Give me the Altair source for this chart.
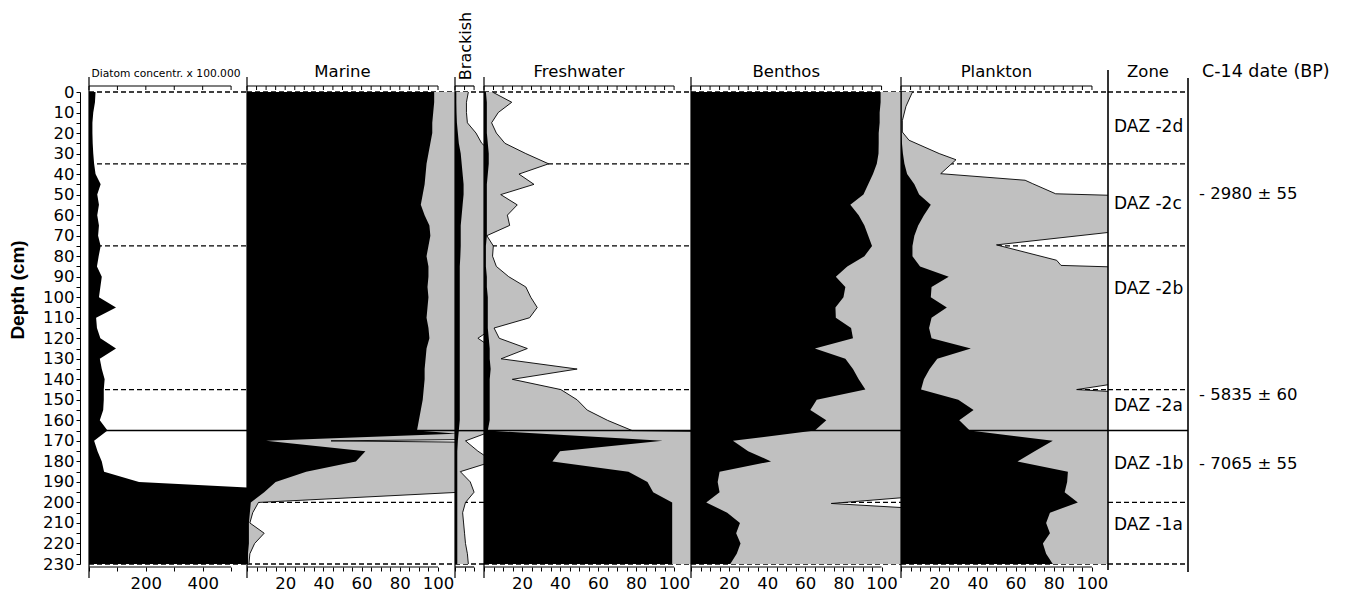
import altair as alt
import pandas as pd

FONT = "DejaVu Sans"
BOLD_FONT = "Liberation Sans"
H = 472

DEPTH = list(range(0, 235, 5))

# Diatom concentration (x 100.000)
CONC_DEPTH = [0, 5, 10, 15, 20, 25, 30, 35, 40, 45, 50, 55, 60, 65, 70, 75, 80, 85, 90, 95, 100,
              105, 110, 115, 120, 125, 130, 135, 140, 145, 150, 155, 160, 165, 170, 175, 180, 185,
              190, 193, 200, 210, 220, 230]
CONC = [23, 21, 15, 12, 12, 13, 15, 18, 23, 41, 29, 35, 29, 35, 32, 41, 34, 28, 45, 40, 35,
        95, 25, 28, 40, 95, 38, 45, 55, 52, 52, 50, 38, 65, 18, 30, 45, 53,
        176, 600, 600, 600, 600, 600]

MARINE_DEPTH = list(range(0, 170, 5)) + [166.5] + list(range(170, 235, 5))
MARINE_BLACK = [98, 98, 97.5, 97, 97, 96, 95, 94, 93.5, 93, 92, 91, 93, 95.5, 96, 95, 94, 95, 95, 94.5,
                95, 94.5, 94, 95, 95.5, 94, 93.5, 93, 93, 92.5, 92, 91, 90, 89, 110, 10, 62, 57, 31,
                15, 9, 2, 1.5, 1, 1, 1, 0.5, 0.5]
MARINE_GRAY_DEPTH = [0, 169.3, 170, 170.7, 195, 200, 205, 210, 215, 220, 225, 230]
MARINE_GRAY = [120, 120, 44, 120, 112, 6, 3, 1.5, 9, 4, 1.5, 1]

BRACKISH_BLACK = [0.7, 0.7, 0.8, 1, 1.5, 2, 3, 3.5, 4, 4.5, 4.5, 4, 3.5, 3, 3, 3, 2.8] + [2.5] * 16 + \
                 [2, 1.5, 1.2, 1.2, 1.2, 1.2, 1.2, 1.2, 1.2, 1.2, 1.2, 1.2, 1.2, 1.2]
BRACKISH_GRAY = [7, 6, 6, 6.5, 11, 14] + [20] * 18 + [12] + [20] * 9 + \
                [5.5, 12, 20, 2.8, 8, 10, 5.5, 4, 4.5, 5, 5.5, 6.5, 7]

FRESH_BLACK = [1, 1.5, 1.5, 1.5, 1.5, 2, 2.5, 2.5, 2, 1.5, 1.5, 1.5, 1.5, 1.5, 1.5, 1, 1, 1, 1.5, 1.5,
               2, 2, 2, 2, 2.5, 3, 3, 3.5, 3, 3, 3, 3, 3, 2, 94, 40, 36, 76, 86, 89, 99, 99, 99, 99,
               99, 99, 99]
FRESH_GRAY_DEPTH = list(range(0, 170, 5)) + [165.5, 230]
FRESH_GRAY = [4.4, 14.6, 7.5, 4, 6.5, 11, 22, 34, 18.4, 26.3, 8.8, 17.5, 12.3, 13.5, 1.5, 4.9, 4.5,
              6.5, 13, 22, 24.6, 28, 24, 5.3, 8, 22.8, 9, 49, 14.9, 40.4, 49, 54.3, 65, 78, 120, 120]

BENTHOS_BLACK = [99.5, 99.5, 99, 99, 98.5, 98.5, 98.4, 97.5, 95.5, 93, 90.5, 83.6, 88, 91, 93, 95, 91,
                 82, 76, 81, 80, 75.8, 76, 84, 85, 65, 81, 85, 88, 91.5, 66, 62.6, 71, 65, 22, 30, 42,
                 15, 14, 15, 8, 19, 25.7, 23.7, 26, 24, 20.6]
BENTHOS_GRAY_DEPTH = [0, 197, 200.5, 203, 230]
BENTHOS_GRAY = [120, 120, 73.6, 120, 120]

PLANKTON_BLACK = [0.3, 0.3, 0.3, 0.3, 0.3, 0.5, 1, 1.8, 3.2, 7, 9.5, 15.6, 12, 9, 7, 6, 6, 10, 25, 16,
                  15.6, 24, 16, 14.7, 16, 36.6, 19, 15, 12, 10.5, 30, 38, 30.5, 36, 79.5, 70, 61, 87.4,
                  87, 85.7, 92.6, 78, 76, 78, 74.3, 76, 79.5]
PLANKTON_GRAY_DEPTH = [0, 7, 14, 19.5, 23.5, 30, 33, 39.8, 43, 44.7, 49.6, 50.6, 67, 68.5, 74.5, 82,
                       84.5, 85.5, 141, 145, 146.5, 230]
PLANKTON_GRAY = [6, 2.6, 0.7, 0.7, 4.2, 20, 28.8, 20.8, 65, 69, 81, 120, 120, 108, 50, 81.5, 83.8,
                 120, 120, 92, 120, 120]

ZONE_DASHED = [0, 35, 75, 145, 200, 230]
ZONE_SOLID = [165]
ZONE_NAMES = ["DAZ -2d", "DAZ -2c", "DAZ -2b", "DAZ -2a", "DAZ -1b", "DAZ -1a"]
ZONE_NAME_DEPTH = [16.9, 54.8, 96.2, 153.2, 181.3, 211]
C14_LABELS = ["- 2980 \u00b1 55", "- 5835 \u00b1 60", "- 7065 \u00b1 55"]
C14_DEPTH = [49.5, 147.5, 181.3]

PCT_TICKS = list(range(0, 105, 5))
PCT_LABELS = [20, 40, 60, 80, 100]
CONC_TICKS = [0, 100, 200, 300, 400, 500]
CONC_LABELS = [200, 400]
BRACK_TICKS = [0, 5, 10]

GRAY = "#c0c0c0"
TICK_FS = 16.5

ysc = alt.Scale(domain=[0, 230], reverse=True, nice=False, zero=False)

depth_axis = alt.Axis(values=list(range(0, 235, 5)),
                      labelExpr="datum.value % 10 === 0 ? datum.label : ''",
                      offset=9, tickSize=4, tickColor="black", domainColor="black",
                      labelFontSize=TICK_FS, labelFont=FONT, labelColor="black", labelPadding=2,
                      grid=False, title=None, labelFlush=False, labelOverlap=False)

dashed_df = pd.DataFrame({"d": ZONE_DASHED})
solid_df = pd.DataFrame({"d": ZONE_SOLID})


def Y(axis=None):
    return alt.Y("d:Q", scale=ysc, axis=axis)


def panel(width, xmax, black_d, black_v, gray_d, gray_v, title, ticks, labels, tick_max,
          y_axis=None, title_x=50, title_size=16.5, rotated=False):
    xs = alt.Scale(domain=[0, xmax], nice=False, zero=True)
    lab = "[" + ",".join(str(v) for v in labels) + "]"
    xaxis = alt.Axis(orient="bottom", values=ticks,
                     labelExpr=f"indexof({lab}, datum.value) >= 0 ? datum.label : ''",
                     offset=3, domain=False, tickSize=4, tickColor="black", tickWidth=1,
                     labelFontSize=TICK_FS, labelFont=FONT, labelColor="black", labelPadding=4,
                     grid=False, title=None, labelFlush=False, labelOverlap=False)
    yenc = Y(y_axis)
    one = pd.DataFrame({"a": [0], "b": [tick_max], "tx": [title_x], "label": [title]})
    layers = [
        alt.Chart(dashed_df).mark_rule(strokeDash=[5, 3], strokeWidth=1.3, color="black")
        .encode(y=yenc, x=alt.value(0), x2=alt.value(width)),
    ]
    if gray_d is not None:
        gdf = pd.DataFrame({"d": gray_d, "v": gray_v})
        layers.append(alt.Chart(gdf).mark_area(orient="horizontal", clip=True, color=GRAY)
                      .encode(x=alt.X("v:Q", scale=xs, axis=xaxis), y=yenc))
        layers.append(alt.Chart(gdf).mark_line(clip=True, color="black", strokeWidth=0.9)
                      .encode(x=alt.X("v:Q", scale=xs, axis=xaxis), y=yenc, order="d:Q"))
    bdf = pd.DataFrame({"d": black_d, "v": black_v})
    layers.append(alt.Chart(bdf).mark_area(orient="horizontal", clip=True, color="black")
                  .encode(x=alt.X("v:Q", scale=xs, axis=xaxis), y=yenc))
    layers.append(alt.Chart(solid_df).mark_rule(strokeWidth=1.5, color="black")
                  .encode(y=yenc, x=alt.value(0), x2=alt.value(width)))
    layers.append(alt.Chart(one).mark_rule(strokeWidth=1.2, color="black")
                  .encode(x=alt.value(0), y=alt.value(-15), y2=alt.value(H + 14)))
    tdf = pd.DataFrame({"t": ticks})
    layers.append(alt.Chart(tdf).mark_rule(strokeWidth=1, color="black")
                  .encode(x=alt.X("t:Q", scale=xs, axis=xaxis), y=alt.value(-6), y2=alt.value(-2)))
    layers.append(alt.Chart(one).mark_rule(strokeWidth=1.2, color="black")
                  .encode(x=alt.X("a:Q", scale=xs, axis=xaxis), x2="b:Q", y=alt.value(-6)))
    layers.append(alt.Chart(one).mark_rule(strokeWidth=1.2, color="black")
                  .encode(x=alt.X("a:Q", scale=xs, axis=xaxis), x2="b:Q", y=alt.value(H + 3)))
    if rotated:
        layers.append(alt.Chart(one).mark_text(angle=270, align="center", baseline="middle",
                                               fontSize=title_size, font=FONT, color="black")
                      .encode(x=alt.X("tx:Q", scale=xs, axis=xaxis), y=alt.value(-46), text="label:N"))
    else:
        layers.append(alt.Chart(one).mark_text(align="center", baseline="alphabetic",
                                               fontSize=title_size, font=FONT, color="black")
                      .encode(x=alt.X("tx:Q", scale=xs, axis=xaxis), y=alt.value(-15), text="label:N"))
    return alt.layer(*layers).properties(width=width, height=H)


conc = panel(158, 556, CONC_DEPTH, CONC, None, None, "Diatom concentr. x 100.000",
             CONC_TICKS, CONC_LABELS, 500, y_axis=depth_axis, title_x=271, title_size=10.7)
depth_title = alt.Chart(pd.DataFrame({"label": ["Depth (cm)"]})).mark_text(
    angle=270, align="center", baseline="middle", fontSize=19, fontWeight="bold", font=BOLD_FONT,
    color="black").encode(x=alt.value(-71), y=alt.value(198), text="label:N")
conc = alt.layer(conc, depth_title)

marine = panel(208, 108.9, MARINE_DEPTH, MARINE_BLACK, MARINE_GRAY_DEPTH, MARINE_GRAY, "Marine",
               PCT_TICKS, PCT_LABELS, 100)
brackish = panel(29, 15.2, DEPTH, BRACKISH_BLACK, DEPTH, BRACKISH_GRAY, "Brackish",
                 BRACK_TICKS, [], 10, title_x=6, title_size=16, rotated=True)
fresh = panel(207, 108.9, DEPTH, FRESH_BLACK, FRESH_GRAY_DEPTH, FRESH_GRAY, "Freshwater",
              PCT_TICKS, PCT_LABELS, 100)
benthos = panel(210, 110.2, DEPTH, BENTHOS_BLACK, BENTHOS_GRAY_DEPTH, BENTHOS_GRAY, "Benthos",
                PCT_TICKS, PCT_LABELS, 100)
plankton = panel(207, 108.4, DEPTH, PLANKTON_BLACK, PLANKTON_GRAY_DEPTH, PLANKTON_GRAY, "Plankton",
                 PCT_TICKS, PCT_LABELS, 100)

# Zone column
ZW = 80
zone_df = pd.DataFrame({"d": ZONE_NAME_DEPTH, "label": ZONE_NAMES})
hdr = pd.DataFrame({"label": ["Zone"]})
zone = alt.layer(
    alt.Chart(dashed_df).mark_rule(strokeDash=[5, 3], strokeWidth=1.3, color="black")
    .encode(y=Y(), x=alt.value(0), x2=alt.value(ZW)),
    alt.Chart(solid_df).mark_rule(strokeWidth=1.5, color="black")
    .encode(y=Y(), x=alt.value(0), x2=alt.value(ZW)),
    alt.Chart(hdr).mark_rule(strokeWidth=1.6, color="black")
    .encode(x=alt.value(0), y=alt.value(-22), y2=alt.value(H + 6)),
    alt.Chart(hdr).mark_rule(strokeWidth=1.6, color="black")
    .encode(x=alt.value(ZW), y=alt.value(-14), y2=alt.value(H + 8)),
    alt.Chart(zone_df).mark_text(align="left", baseline="middle", fontSize=17, font=FONT, color="black")
    .encode(y=Y(), x=alt.value(6), text="label:N"),
    alt.Chart(hdr).mark_text(align="center", baseline="alphabetic", fontSize=16.5, font=FONT, color="black")
    .encode(x=alt.value(ZW / 2), y=alt.value(-15), text="label:N"),
).properties(width=ZW, height=H)

c14_df = pd.DataFrame({"d": C14_DEPTH, "label": C14_LABELS})
c14_hdr = pd.DataFrame({"label": ["C-14 date (BP)"]})
c14 = alt.layer(
    alt.Chart(c14_df).mark_text(align="left", baseline="middle", fontSize=16.5, font=FONT, color="black")
    .encode(y=Y(), x=alt.value(11), text="label:N"),
    alt.Chart(c14_hdr).mark_text(align="left", baseline="alphabetic", fontSize=17.5, font=FONT, color="black")
    .encode(x=alt.value(14), y=alt.value(-15), text="label:N"),
).properties(width=140, height=H)

chart = alt.hconcat(conc, marine, brackish, fresh, benthos, plankton, zone, c14,
                    spacing=0, bounds="flush").properties(
    padding={"left": 1, "top": 3, "right": 0, "bottom": 0},
    background="white",
).configure_view(strokeWidth=0)

chart.save("out.html", embed_options={"renderer": "svg", "actions": False})
